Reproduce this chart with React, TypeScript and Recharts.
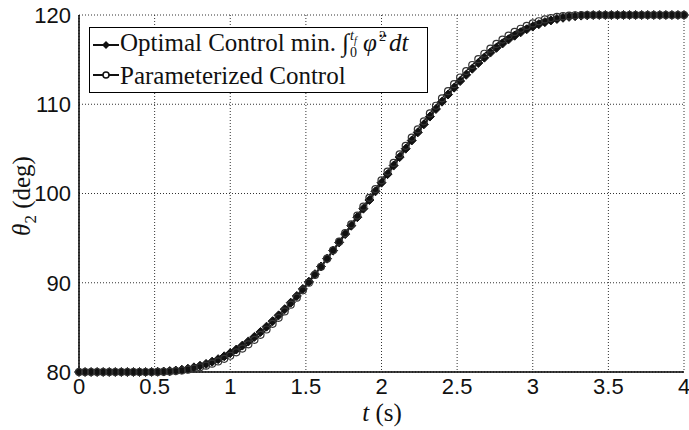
import { LineChart, Line, CartesianGrid, XAxis, YAxis } from "recharts";

// time samples (s)
const TIME = [
  0, 0.04, 0.08, 0.12, 0.16, 0.2, 0.24, 0.28, 0.32, 0.36,
  0.4, 0.44, 0.48, 0.52, 0.56, 0.6, 0.64, 0.68, 0.72, 0.76,
  0.8, 0.84, 0.88, 0.92, 0.96, 1.0, 1.04, 1.08, 1.12, 1.16,
  1.2, 1.24, 1.28, 1.32, 1.36, 1.4, 1.44, 1.48, 1.52, 1.56,
  1.6, 1.64, 1.68, 1.72, 1.76, 1.8, 1.84, 1.88, 1.92, 1.96,
  2.0, 2.04, 2.08, 2.12, 2.16, 2.2, 2.24, 2.28, 2.32, 2.36,
  2.4, 2.44, 2.48, 2.52, 2.56, 2.6, 2.64, 2.68, 2.72, 2.76,
  2.8, 2.84, 2.88, 2.92, 2.96, 3.0, 3.04, 3.08, 3.12, 3.16,
  3.2, 3.24, 3.28, 3.32, 3.36, 3.4, 3.44, 3.48, 3.52, 3.56,
  3.6, 3.64, 3.68, 3.72, 3.76, 3.8, 3.84, 3.88, 3.92, 3.96,
  4.0,
];

// theta_2 (deg), optimal control
const OPTIMAL = [
  80, 80, 80, 80, 80, 80, 80, 80, 80, 80,
  80, 80.0, 80.01, 80.02, 80.05, 80.1, 80.16, 80.26, 80.37, 80.52,
  80.7, 80.91, 81.16, 81.44, 81.76, 82.12, 82.52, 82.96, 83.43, 83.94,
  84.49, 85.08, 85.7, 86.35, 87.04, 87.77, 88.52, 89.31, 90.12, 90.96,
  91.82, 92.7, 93.6, 94.52, 95.45, 96.39, 97.34, 98.3, 99.27, 100.24,
  101.21, 102.17, 103.13, 104.08, 105.02, 105.94, 106.85, 107.75, 108.62, 109.47,
  110.29, 111.09, 111.86, 112.6, 113.3, 113.98, 114.62, 115.22, 115.79, 116.32,
  116.81, 117.27, 117.68, 118.06, 118.4, 118.7, 118.97, 119.2, 119.39, 119.56,
  119.69, 119.79, 119.87, 119.93, 119.97, 119.99, 120, 120, 120, 120,
  120, 120, 120, 120, 120, 120, 120, 120, 120, 120,
  120,
];

// theta_2 (deg), parameterized control
const PARAM = [
  80, 80, 80, 80, 80, 80, 80, 80, 80, 80,
  80, 80, 80, 80.01, 80.03, 80.05, 80.1, 80.17, 80.26, 80.38,
  80.53, 80.71, 80.93, 81.19, 81.48, 81.82, 82.2, 82.63, 83.1, 83.61,
  84.16, 84.76, 85.4, 86.07, 86.79, 87.54, 88.33, 89.15, 90.0, 90.88,
  91.78, 92.7, 93.64, 94.6, 95.57, 96.55, 97.53, 98.52, 99.51, 100.5,
  101.48, 102.46, 103.43, 104.39, 105.34, 106.27, 107.19, 108.09, 108.97, 109.83,
  110.66, 111.47, 112.25, 113.0, 113.72, 114.4, 115.05, 115.66, 116.23, 116.76,
  117.25, 117.7, 118.1, 118.46, 118.78, 119.06, 119.3, 119.5, 119.66, 119.78,
  119.87, 119.93, 119.97, 119.99, 120, 120, 120, 120, 120, 120,
  120, 120, 120, 120, 120, 120, 120, 120, 120, 120,
  120,
];

const X_TICKS = [0, 0.5, 1, 1.5, 2, 2.5, 3, 3.5, 4];
const Y_TICKS = [80, 90, 100, 110, 120];

const data = TIME.map((t, i) => ({ t, optimal: OPTIMAL[i], param: PARAM[i] }));

const tickFont = { fontFamily: "Liberation Sans, Arial, sans-serif", fontSize: 22, fill: "#111" };
const serif = "'Liberation Serif', 'Times New Roman', serif";

function Diamond(props: any) {
  const { cx, cy, index } = props;
  if (cx == null || cy == null) return <g key={index} />;
  const r = 4.5;
  return (
    <path
      key={index}
      d={`M${cx},${cy - r}L${cx + r},${cy}L${cx},${cy + r}L${cx - r},${cy}Z`}
      fill="#111"
      stroke="#111"
      strokeWidth={1}
    />
  );
}

function LegendBox() {
  const row = { display: "flex", alignItems: "center", height: 30, whiteSpace: "nowrap" as const };
  return (
    <div
      style={{
        position: "absolute",
        left: 89,
        top: 27,
        border: "1.5px solid #000",
        background: "#fff",
        fontFamily: serif,
        fontSize: 25,
        color: "#111",
        padding: "2px 6px 2px 2px",
        width: 339,
        boxSizing: "border-box",
        lineHeight: 1,
      }}
    >
      <div style={row}>
        <svg width={28} height={14} style={{ flexShrink: 0 }}>
          <line x1={1} y1={7} x2={27} y2={7} stroke="#111" strokeWidth={2} />
          <path d="M14,3L18,7L14,11L10,7Z" fill="#111" />
        </svg>
        <span>
          Optimal Control min.{" "}
          <span style={{ fontStyle: "italic" }}>
            ∫
            <span style={{ display: "inline-flex", flexDirection: "column", fontSize: 14, verticalAlign: "middle", lineHeight: 1.05, marginLeft: 1 }}>
              <span>t<sub style={{ fontSize: 10 }}>f</sub></span>
              <span style={{ fontStyle: "normal" }}>0</span>
            </span>
            <span style={{ marginLeft: 6 }}>φ̈</span>
            <sup style={{ fontSize: 14, fontStyle: "normal", marginLeft: 2 }}>2</sup>
            <span style={{ marginLeft: 3 }}>dt</span>
          </span>
        </span>
      </div>
      <div style={row}>
        <svg width={28} height={14} style={{ flexShrink: 0 }}>
          <line x1={1} y1={7} x2={27} y2={7} stroke="#111" strokeWidth={2} />
          <circle cx={14} cy={7} r={3} fill="#fff" stroke="#111" strokeWidth={1.5} />
        </svg>
        <span>Parameterized Control</span>
      </div>
    </div>
  );
}

function YLabel() {
  return (
    <text
      x={0}
      y={0}
      transform="translate(30,196) rotate(-90)"
      textAnchor="middle"
      fontFamily={serif}
      fontSize={25}
      fill="#111"
    >
      <tspan fontStyle="italic">θ</tspan>
      <tspan fontSize={17} dy={6}>2</tspan>
      <tspan dy={-6}> (deg)</tspan>
    </text>
  );
}

function XLabel() {
  return (
    <text x={382} y={421} textAnchor="middle" fontFamily={serif} fontSize={25} fill="#111">
      <tspan fontStyle="italic">t</tspan>
      <tspan> (s)</tspan>
    </text>
  );
}

export default function App() {
  return (
    <div style={{ position: "relative", width: 689, height: 430, background: "#fff" }}>
      <style>{`body{margin:0}`}</style>
      <LineChart width={689} height={430} data={data} margin={{ top: 15, right: 5, bottom: 0, left: 0 }}>
        <CartesianGrid stroke="#333" strokeDasharray="1 2" strokeWidth={1} />
        <XAxis
          dataKey="t"
          type="number"
          domain={[0, 4]}
          ticks={X_TICKS}
          height={58}
          tick={tickFont}
          tickLine={false}
          axisLine={{ stroke: "#000", strokeWidth: 1.5 }}
          tickMargin={0}
          interval={0}
          label={{ content: () => <XLabel /> }}
        />
        <XAxis xAxisId="top" orientation="top" dataKey="t" type="number" domain={[0, 4]} height={0} tick={false} tickLine={false} axisLine={{ stroke: "#000", strokeWidth: 1.5 }} />
        <YAxis
          type="number"
          domain={[80, 120]}
          ticks={Y_TICKS}
          width={79}
          tick={tickFont}
          tickLine={false}
          axisLine={{ stroke: "#000", strokeWidth: 1.5 }}
          tickMargin={2}
          interval={0}
          label={{ content: () => <YLabel /> }}
        />
        <YAxis yAxisId="right" orientation="right" domain={[80, 120]} width={0} tick={false} tickLine={false} axisLine={{ stroke: "#000", strokeWidth: 1.5 }} />
        <Line
          type="linear"
          dataKey="optimal"
          stroke="#111"
          strokeWidth={2}
          dot={(p: any) => <Diamond key={p.index} {...p} />}
          isAnimationActive={false}
        />
        <Line
          type="linear"
          dataKey="param"
          stroke="#222"
          strokeWidth={1.5}
          dot={{ r: 3.5, fill: "none", stroke: "#333", strokeWidth: 1.2 }}
          isAnimationActive={false}
        />
      </LineChart>
      <LegendBox />
    </div>
  );
}
